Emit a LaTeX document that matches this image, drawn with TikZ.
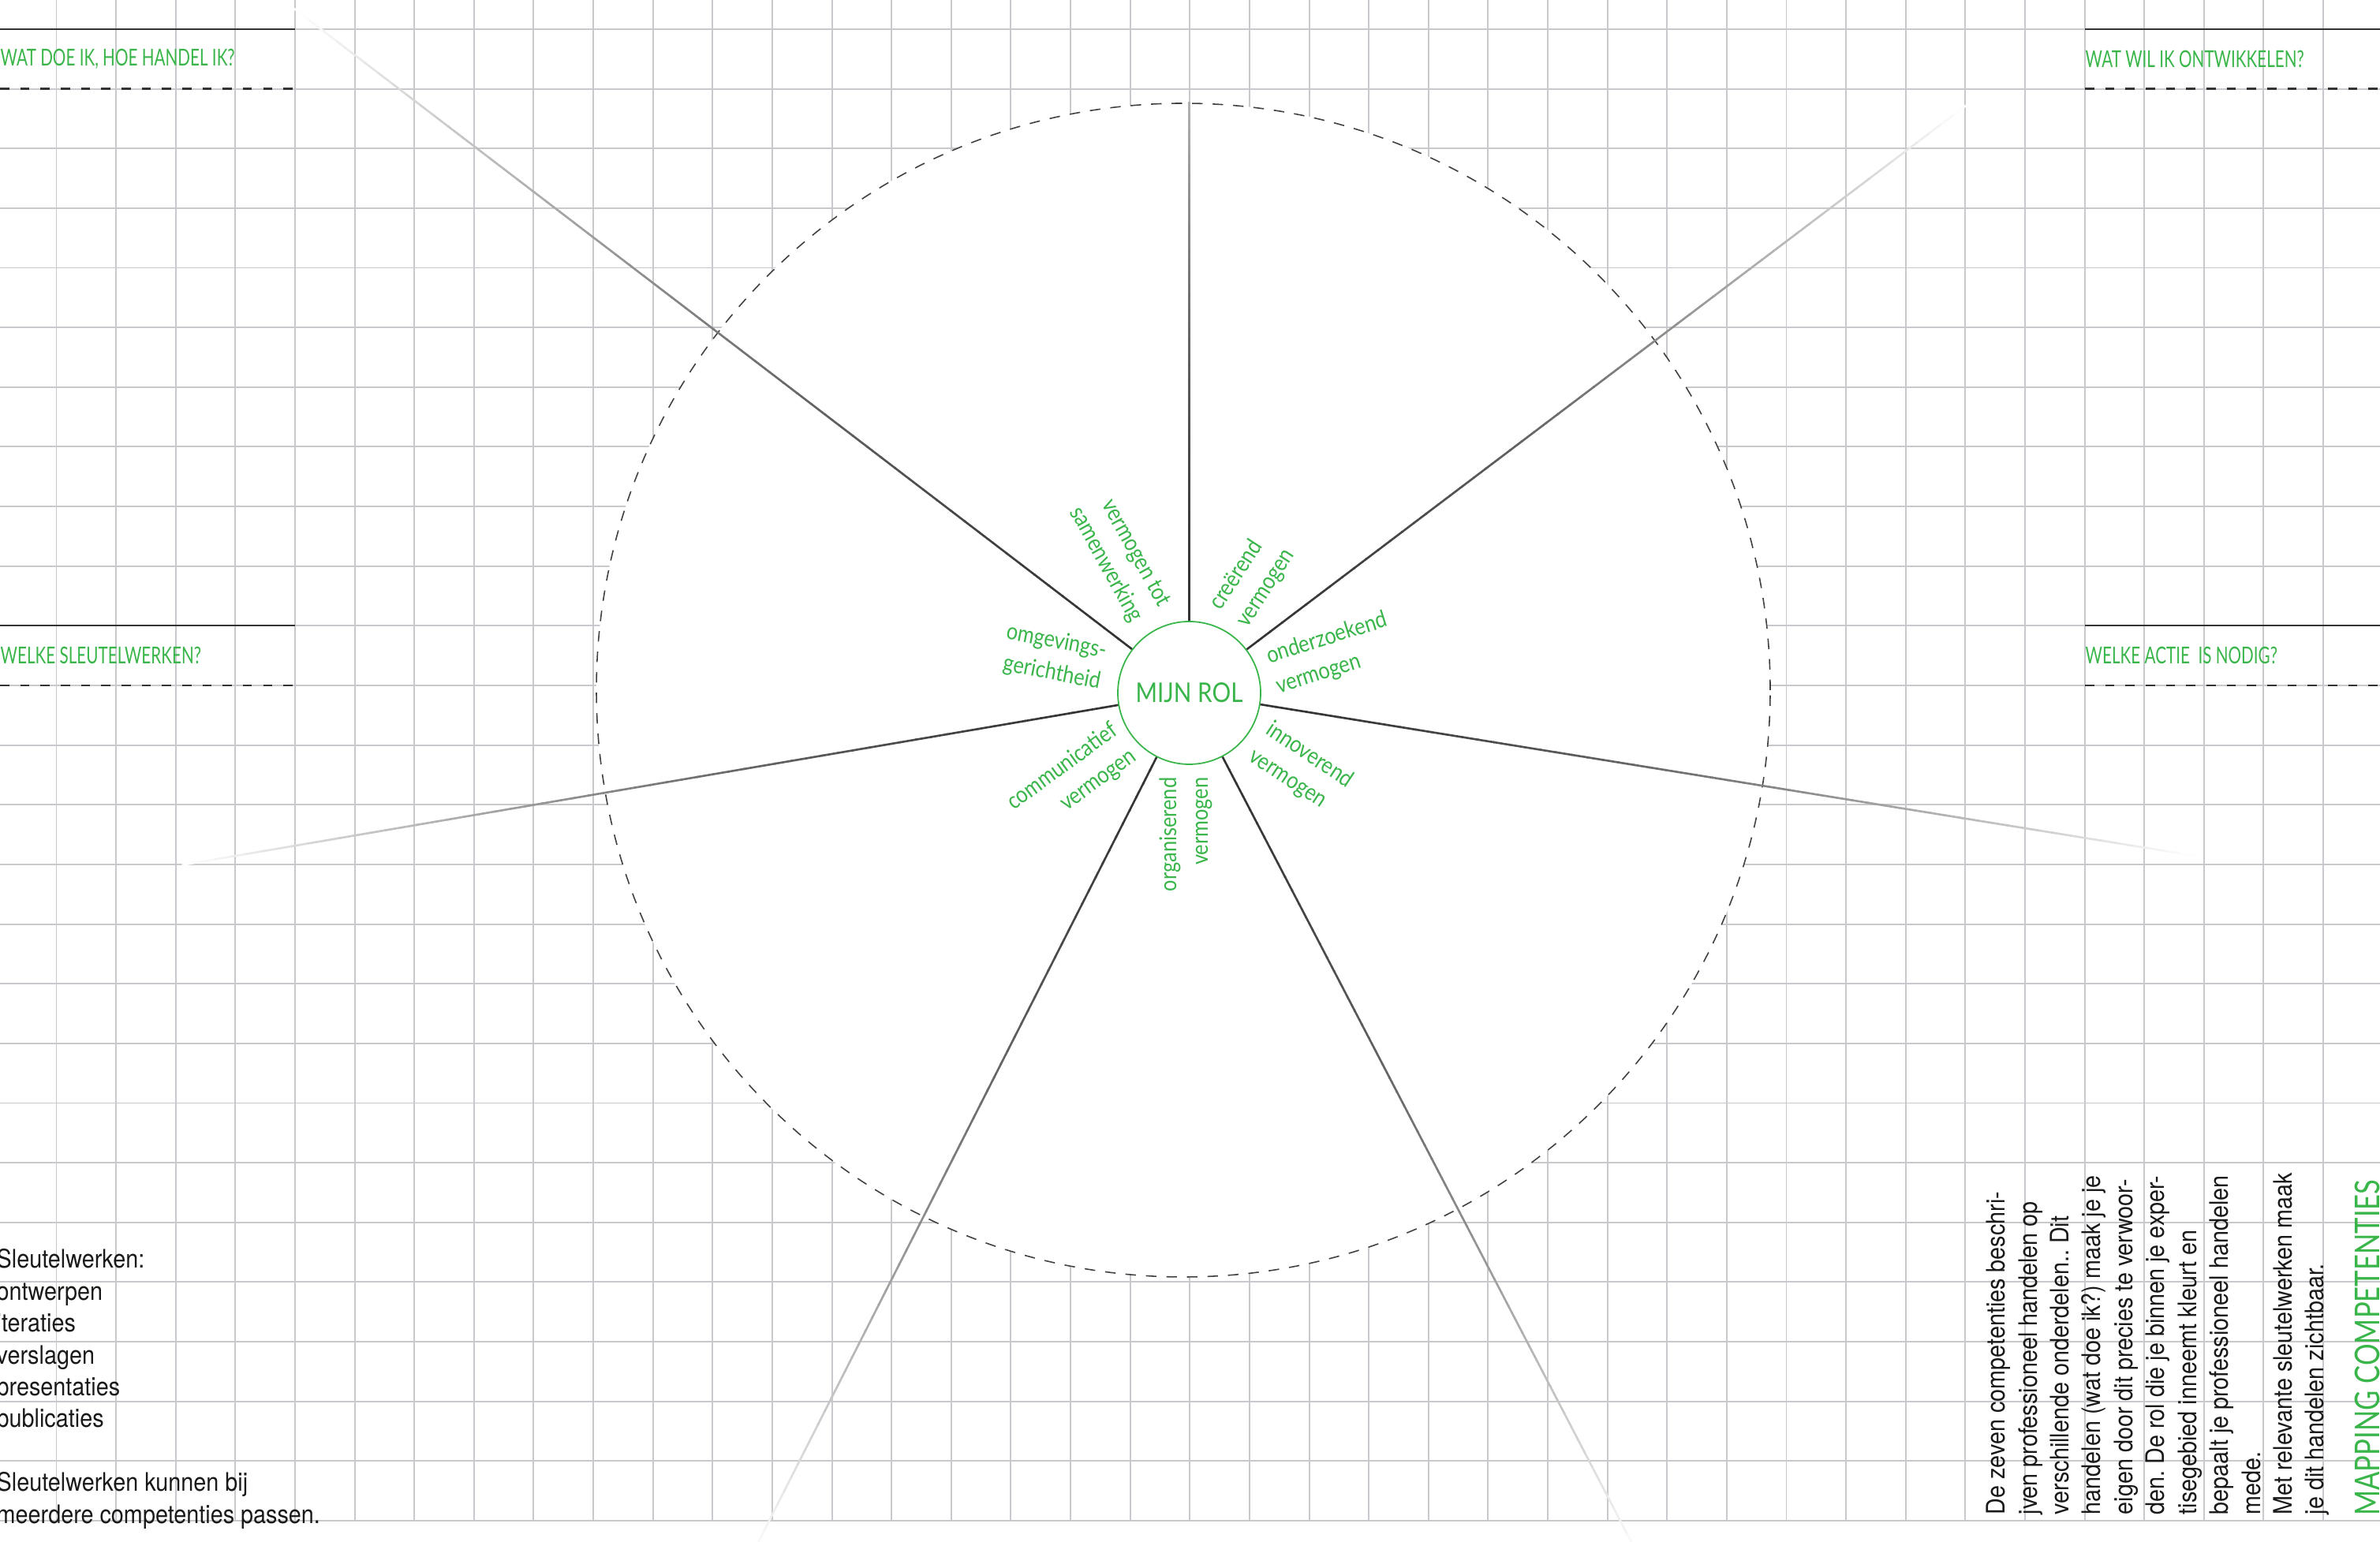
\documentclass[tikz,border=0pt]{standalone}
\usepackage{fontspec}
\newfontfamily\bodyfont[FakeStretch=0.89]{TeX Gyre Heros}
\newfontfamily\headfont[FakeStretch=0.7]{Lato}
\newfontfamily\condfont[FakeStretch=0.86]{Lato}
\newfontfamily\titlefont[FakeStretch=0.8]{Lato}
\definecolor{mapgreen}{RGB}{57,181,74}
\definecolor{gridgray}{RGB}{200,200,205}

\begin{document}
\begin{tikzpicture}[
    gridline/.style={gridgray, line width=0.55pt},
    headline/.style={black!80, line width=0.6pt},
    headdash/.style={black!80, line width=0.8pt, dash pattern=on 3.3pt off 4pt},
    heading/.style={text=mapgreen, font=\headfont\fontsize{8.4}{10}\selectfont, inner sep=0, anchor=west},
    comp/.style={text=mapgreen, font=\condfont\fontsize{8.4}{11.4}\selectfont, inner sep=0},
    spoke/.style={line width=0.75pt},
    bodytext/.style={font=\bodyfont\fontsize{9.2}{11.5}\selectfont\frenchspacing, align=left, inner sep=0, text=black!90}
]
\useasboundingbox (0,0) rectangle (30.17,19.55);
\clip (0,0) rectangle (30.17,19.55);

% grid
\foreach \i in {0,...,38}
  \draw[gridline] (0.715+0.7562*\i, 0.27) -- (0.715+0.7562*\i, 19.55);
\foreach \j in {0,...,25}
  \draw[gridline] (0, 19.18-0.7564*\j) -- (30.17, 19.18-0.7564*\j);

% wheel
\coordinate (mid) at (15.0,10.8);
\coordinate (c) at (15.075,10.765);
\fill[white] (mid) circle (7.44);
\draw[black!75, line width=0.45pt, dash pattern=on 3.8pt off 3.6pt] (mid) circle (7.44);

% spokes, fading outwards
\begin{scope}[shift={(c)}]
\foreach \ang/\len/\fl in {90/7.475/10, 37.1/12.33/12.33, -9.2/12.92/12.92, -62.5/12.4/12.4,
    -116.9/12.3/12.3, 189.7/12.94/12.94, 142.6/14.27/14.27}{
  \foreach \i in {0,...,59}{
    \pgfmathsetmacro{\ra}{0.9+(\len-0.9)*\i/60}
    \pgfmathsetmacro{\rb}{0.9+(\len-0.9)*(\i+1)/60+0.015}
    \pgfmathsetmacro{\tone}{80*(1-(((\ra+\rb)/2-0.9)/(\fl-0.9))^1.5)}
    \draw[spoke, black!\tone] (\ang:\ra) -- (\ang:\rb);
  }
}
\end{scope}

\node[circle, draw=mapgreen, fill=white, line width=0.5pt, minimum size=1.81cm, inner sep=0,
  text=mapgreen, font=\condfont\fontsize{9.8}{11}\selectfont] (rol) at (c) {MIJN ROL};

% competencies, anchored at the end facing the centre
\node[comp, rotate=-61, align=right, anchor=east] (samen) at (14.58,11.776) {vermogen tot\\samenwerking};
\node[comp, rotate=57, align=left, anchor=west] (creeer) at (15.57,11.73) {creërend\\vermogen};
\node[comp, rotate=17.5, align=left, anchor=west] (onderz) at (16.12,11.023) {onderzoekend\\vermogen};
\node[comp, rotate=-33.5, align=left, anchor=west] (innov) at (15.963,10.156) {innoverend\\vermogen};
\node[comp, rotate=90, align=right, anchor=east] (organ) at (15.03,9.70) {organiserend\\vermogen};
\node[comp, rotate=36, align=right, anchor=east] (commu) at (14.26,10.15) {communicatief\\vermogen};
\node[comp, rotate=-11, align=right, anchor=east] (omgev) at (13.99,11.09) {omgevings-\\gerichtheid};

% question blocks
\draw[headline] (0,19.18) -- (3.74,19.18);
\draw[headdash] (0,18.424) -- (3.74,18.424);
\node[heading] (doe) at (0,18.80) {WAT DOE IK, HOE HANDEL IK?};
\draw[headline] (0,11.616) -- (3.74,11.616);
\draw[headdash] (0,10.86) -- (3.74,10.86);
\node[heading] (werken) at (0,11.238) {WELKE SLEUTELWERKEN?};
\draw[headline] (26.43,19.18) -- (30.17,19.18);
\draw[headdash] (26.43,18.424) -- (30.17,18.424);
\node[heading] (wil) at (26.43,18.80) {WAT WIL IK ONTWIKKELEN?};
\draw[headline] (26.43,11.616) -- (30.17,11.616);
\draw[headdash] (26.43,10.86) -- (30.17,10.86);
\node[heading] (actie) at (26.43,11.238) {WELKE ACTIE\ \ IS NODIG?};

% notes
\node[bodytext, anchor=north west] (sleutel) at (-0.05,3.72)
  {Sleutelwerken:\\ontwerpen\\iteraties\\verslagen\\presentaties\\publicaties\\[11.5pt]
   Sleutelwerken kunnen bij\\meerdere competenties passen.};
\node[bodytext, rotate=90, anchor=north west] (uitleg) at (25.174,0.34)
  {De zeven competenties beschri-\\jven professioneel handelen op\\verschillende onderdelen.. Dit\\
   handelen (wat doe ik?) maak je je\\eigen door dit precies te verwoor-\\den. De rol die je binnen je exper-\\
   tisegebied inneemt kleurt en\\bepaalt je professioneel handelen\\mede.\\
   Met relevante sleutelwerken maak\\je dit handelen zichtbaar.};
\node[text=mapgreen, font=\titlefont\fontsize{12.3}{14}\selectfont, inner sep=0, rotate=90,
  anchor=base west] (titel) at (30.165,0.325) {MAPPING COMPETENTIES};
\end{tikzpicture}
\end{document}
